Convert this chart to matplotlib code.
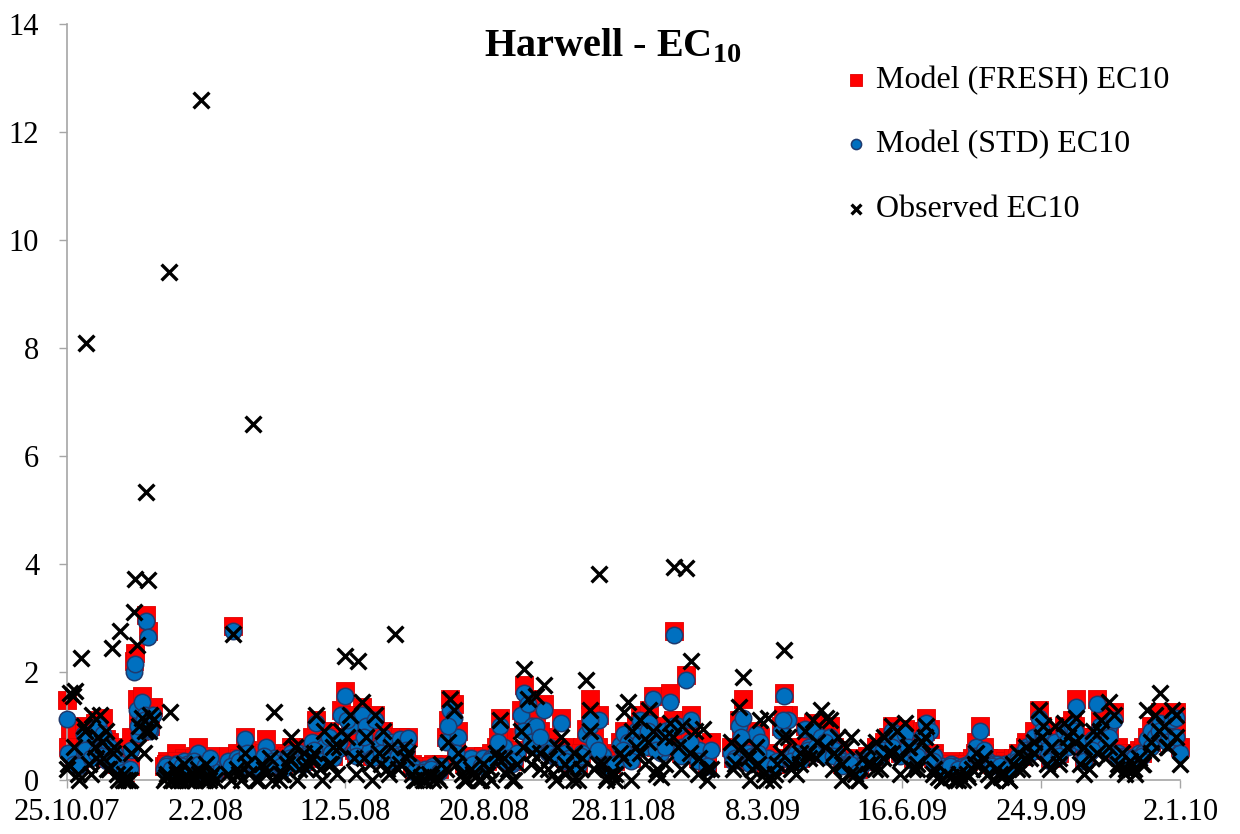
import numpy as np
import matplotlib
matplotlib.use("Agg")
import matplotlib.pyplot as plt

plt.rcParams['font.family'] = ['Liberation Serif', 'DejaVu Serif']
plt.rcParams['mathtext.fontset'] = 'custom'
plt.rcParams['mathtext.rm'] = 'Liberation Serif'
plt.rcParams['mathtext.bf'] = 'Liberation Serif:bold'

# sampling days counted from 25.10.07
days_a = [0, 2, 4, 6, 8, 10, 12, 14, 16, 18, 20, 22, 24, 26, 28, 30, 32, 34, 36, 38,
          40, 42, 44, 46, 48, 49, 50, 52, 54, 56, 57, 58, 60, 62,
          1, 5, 9, 13, 17, 21, 25, 29, 33, 37, 41, 45, 51, 55, 59]
fresh_a = [1.48, 0.9, 0.5, 0.55, 0.4, 0.55, 1.0, 0.55, 0.5, 0.7, 1.05, 1.1, 0.6, 1.15, 0.75, 0.7, 0.5, 0.6, 0.3, 0.35,
           0.2, 0.15, 0.3, 0.8, 2.2, 2.35, 1.5, 0.9, 1.55, 1.3, 3.05, 2.75, 1.0, 1.35,
           0.6, 0.35, 0.3, 0.7, 0.45, 0.6, 0.5, 0.4, 0.35, 0.3, 0.2, 0.25, 1.1, 1.2, 1.1]
std_a = [1.12, 0.45, 0.4, 0.45, 0.3, 0.5, 0.85, 0.45, 0.4, 0.6, 0.9, 1.0, 0.55, 0.85, 0.7, 0.6, 0.4, 0.5, 0.25, 0.3,
         0.15, 0.1, 0.2, 0.55, 2.0, 2.15, 1.3, 0.85, 1.45, 1.2, 2.95, 2.65, 0.9, 1.2,
         0.5, 0.3, 0.25, 0.55, 0.4, 0.5, 0.45, 0.35, 0.3, 0.2, 0.15, 0.2, 1.0, 1.1, 0.95]
obs_a = [0.2, 1.6, 1.55, 1.65, 0.1, 2.25, 1.0, 8.1, 0.3, 1.2, 0.6, 0.8, 1.2, 0.4, 0.9, 0.2, 2.45, 0.6, 0.1, 2.75,
         0.0, 0.0, 0.0, 0.5, 3.1, 3.72, 2.5, 1.0, 1.15, 0.9, 5.33, 3.7, 1.2, 1.1,
         0.3, 0.6, 0.0, 0.9, 0.1, 0.4, 0.7, 0.2, 0.5, 0.0, 0.1, 0.0, 0.6, 0.5, 0.9]

days_b = [70, 72, 73, 74, 76, 78, 80, 82, 84, 86, 88, 90, 92, 94, 96, 98, 100, 102, 104, 106,
          71, 75, 79, 83, 87, 91, 95, 99, 103]
fresh_b = [0.25, 0.35, 0.3, 0.2, 0.3, 0.5, 0.3, 0.2, 0.4, 0.35, 0.25, 0.3, 0.45, 0.6, 0.3, 0.2, 0.35, 0.25, 0.3, 0.2,
           0.3, 0.25, 0.35, 0.3, 0.2, 0.4, 0.35, 0.3, 0.45]
std_b = [0.2, 0.3, 0.25, 0.15, 0.25, 0.3, 0.25, 0.15, 0.35, 0.3, 0.2, 0.2, 0.4, 0.5, 0.25, 0.15, 0.3, 0.2, 0.25, 0.15,
         0.25, 0.2, 0.3, 0.25, 0.15, 0.35, 0.3, 0.25, 0.4]
obs_b = [0.0, 0.1, 9.4, 1.25, 0.0, 0.2, 0.0, 0.0, 0.3, 0.0, 0.0, 0.1, 0.0, 0.2, 12.6, 0.0, 0.3, 0.0, 0.1, 0.0,
         0.05, 0.0, 0.1, 0.0, 0.05, 0.0, 0.1, 0.0, 0.05]

days_c = [116, 119, 122, 125, 128, 131, 134, 137, 140, 143, 146, 149, 152, 155, 158, 161, 164, 167, 170, 173,
          176, 179, 182, 185, 188, 191, 194, 197, 200, 203, 206, 209, 212, 215, 218, 221, 224, 227, 230, 233,
          236, 239, 242, 245, 248, 251, 254, 257, 260, 263, 266, 269, 272, 275, 278, 281, 284, 287, 290, 293,
          296, 299, 302, 305, 308, 311, 314, 317, 320, 323, 326, 328, 331, 334, 337, 340, 343, 346, 349, 352,
          355, 358, 361, 364, 367, 370, 373, 376, 379, 382, 385, 388, 391, 394, 397, 400, 403, 406, 409, 412,
          415, 418, 421, 424, 427, 430, 433, 436, 439, 442, 445, 448, 451, 454, 457, 460, 463]
fresh_c = [0.45, 2.85, 0.5, 0.3, 0.8, 0.4, 0.35, 0.25, 0.45, 0.75, 0.3, 0.5, 0.35, 0.25, 0.45, 0.6, 0.5, 0.55, 0.35, 0.6,
           0.8, 1.1, 0.5, 0.7, 0.9, 0.45, 0.6, 1.3, 1.65, 1.1, 0.55, 0.7, 1.35, 1.1, 0.6, 1.2, 0.7, 0.9, 0.5, 0.8,
           0.6, 0.8, 0.5, 0.8, 0.3, 0.25, 0.2, 0.25, 0.2, 0.3, 0.25, 0.3, 0.8, 1.5, 1.4, 0.9, 0.4, 0.3, 0.45, 0.35,
           0.3, 0.45, 0.35, 0.5, 0.6, 1.15, 0.8, 0.5, 0.35, 0.55, 1.3, 1.75, 1.5, 1.1, 1.1, 0.7, 1.4, 0.8, 0.5, 0.6,
           1.15, 0.6, 0.45, 0.4, 0.3, 0.6, 0.95, 1.5, 0.8, 1.2, 0.5, 0.35, 0.3, 0.4, 0.7, 0.9, 0.8, 0.5, 1.0, 1.2,
           0.7, 1.3, 1.55, 0.9, 0.6, 1.0, 1.6, 2.75, 1.1, 0.7, 1.95, 1.2, 0.5, 0.6, 0.5, 0.3, 0.7]
std_c = [0.35, 2.75, 0.4, 0.25, 0.75, 0.3, 0.3, 0.2, 0.35, 0.6, 0.25, 0.4, 0.3, 0.2, 0.4, 0.5, 0.45, 0.5, 0.3, 0.5,
         0.7, 1.05, 0.45, 0.6, 0.8, 0.4, 0.55, 1.2, 1.55, 1.0, 0.5, 0.6, 1.2, 1.0, 0.55, 1.1, 0.6, 0.8, 0.45, 0.7,
         0.55, 0.75, 0.4, 0.78, 0.25, 0.2, 0.15, 0.2, 0.15, 0.25, 0.2, 0.25, 0.7, 1.3, 1.15, 0.8, 0.35, 0.25, 0.4, 0.3,
         0.25, 0.4, 0.3, 0.4, 0.5, 1.0, 0.6, 0.4, 0.3, 0.5, 1.2, 1.6, 1.4, 1.0, 1.0, 0.6, 1.3, 0.6, 0.45, 0.5,
         1.05, 0.5, 0.4, 0.35, 0.25, 0.5, 0.85, 1.0, 0.7, 1.1, 0.45, 0.3, 0.25, 0.3, 0.65, 0.85, 0.7, 0.45, 0.9, 1.1,
         0.6, 1.05, 1.5, 0.8, 0.5, 0.9, 1.45, 2.68, 1.0, 0.6, 1.85, 1.1, 0.45, 0.55, 0.35, 0.25, 0.55]
obs_c = [0.1, 2.7, 0.2, 0.0, 0.5, 0.1, 6.6, 0.0, 0.3, 0.1, 0.4, 1.25, 0.0, 0.1, 0.3, 0.8, 0.6, 0.2, 0.5, 0.3,
         0.4, 1.2, 0.2, 0.9, 0.3, 0.6, 0.1, 0.9, 2.3, 1.2, 0.4, 2.2, 1.45, 0.8, 0.3, 1.2, 0.5, 0.9, 0.2, 0.6,
         2.7, 0.3, 0.6, 0.5, 0.1, 0.0, 0.05, 0.0, 0.1, 0.0, 0.05, 0.3, 0.2, 1.5, 1.3, 0.5, 0.1, 0.0, 0.2, 0.05,
         0.0, 0.3, 0.1, 0.0, 0.5, 1.1, 0.4, 0.2, 0.0, 0.3, 0.9, 2.05, 1.5, 0.5, 1.55, 0.2, 1.75, 0.4, 0.1, 0.6,
         0.8, 0.3, 0.2, 0.5, 0.0, 0.4, 1.85, 1.3, 0.2, 3.82, 0.3, 0.05, 0.1, 0.0, 0.5, 1.25, 1.45, 0.9, 0.6, 1.1,
         0.3, 1.3, 0.9, 0.2, 0.05, 0.8, 1.05, 3.95, 0.6, 1.0, 3.92, 2.2, 0.9, 0.4, 0.95, 0.2, 0.2]

# in-between samples, summer 2008 to autumn 2008
days_c2 = [117.5, 123.5, 129.5, 135.5, 141.5, 147.5, 153.5, 159.5, 165.5, 171.5, 177.5, 183.5, 189.5, 195.5,
           201.5, 207.5, 213.5, 219.5, 225.5, 231.5, 237.5, 243.5, 249.5, 255.5, 261.5, 267.5, 273.5, 279.5,
           285.5, 291.5, 297.5, 303.5, 309.5, 315.5, 321.5, 327.5, 333.5, 339.5, 345.5, 351.5, 357.5, 363.5,
           369.5, 375.5, 381.5, 387.5, 393.5, 399.5, 405.5, 411.5, 417.5, 423.5, 429.5, 435.5, 441.5, 447.5,
           453.5, 459.5]
fresh_c2 = [0.3, 0.4, 0.55, 0.3, 0.5, 0.4, 0.3, 0.45, 0.35, 0.5, 0.6, 0.4, 0.55, 0.8,
            1.2, 0.5, 0.9, 0.45, 0.55, 0.4, 0.5, 0.6, 0.2, 0.2, 0.25, 0.2, 1.1, 0.6,
            0.3, 0.35, 0.3, 0.4, 0.8, 0.4, 0.4, 1.0, 0.8, 0.9, 0.6, 0.5, 0.4, 0.3,
            0.5, 1.2, 0.6, 0.3, 0.35, 0.6, 0.4, 0.8, 1.0, 0.6, 0.7, 1.1, 0.5, 0.8,
            0.4, 0.3]
std_c2 = [0.25, 0.35, 0.5, 0.25, 0.45, 0.35, 0.25, 0.4, 0.3, 0.45, 0.55, 0.35, 0.5, 0.7,
          1.1, 0.45, 0.8, 0.4, 0.5, 0.35, 0.45, 0.55, 0.15, 0.15, 0.2, 0.15, 1.0, 0.5,
          0.25, 0.3, 0.25, 0.35, 0.7, 0.35, 0.35, 0.9, 0.7, 0.8, 0.5, 0.45, 0.35, 0.25,
          0.45, 1.1, 0.55, 0.25, 0.3, 0.55, 0.35, 0.7, 0.9, 0.55, 0.6, 1.0, 0.45, 0.7,
          0.35, 0.25]
obs_c2 = [0.0, 0.1, 0.3, 0.0, 0.2, 0.0, 0.1, 0.4, 0.0, 0.2, 0.5, 0.0, 0.3, 0.6,
          0.8, 0.1, 0.4, 0.0, 0.3, 0.1, 0.2, 0.4, 0.0, 0.0, 0.05, 0.0, 0.7, 0.3,
          0.0, 0.1, 0.0, 0.2, 0.4, 0.1, 0.0, 0.6, 0.3, 0.5, 0.2, 0.0, 0.1, 0.0,
          0.2, 0.9, 0.3, 0.0, 0.1, 0.4, 0.0, 0.5, 0.7, 0.1, 0.3, 0.8, 0.2, 0.5,
          0.1, 0.0]

days_d = [477, 480, 483, 486, 489, 492, 495, 498, 501, 504, 507, 510, 513, 515, 518, 521, 524, 527, 530, 533,
          536, 539, 542, 545, 548, 551, 554, 557, 560, 563, 566, 569, 572, 575, 578, 581, 584, 587, 590, 593,
          596, 599, 602, 605, 608, 611, 614, 617, 620, 623, 626, 629, 632, 635, 638, 641, 644, 647, 650, 653,
          656, 659, 662, 665, 668, 671, 674, 677, 680, 683, 686, 689, 692, 695, 698, 701, 704, 707, 710, 713,
          716, 719, 722, 725, 728, 731, 734, 737, 740, 743, 746, 749, 752, 755, 758, 761, 764, 767, 770, 773,
          776, 779, 782, 785, 788, 791, 794, 797, 800]
fresh_d = [0.6, 0.45, 1.1, 1.5, 0.6, 0.5, 0.9, 0.8, 0.4, 0.5, 0.3, 0.4, 1.0, 1.6, 1.2, 0.5, 0.6, 0.4, 1.0, 0.7,
           1.05, 0.6, 0.9, 0.5, 1.0, 0.6, 0.55, 0.4, 0.35, 0.4, 0.3, 0.25, 0.35, 0.45, 0.4, 0.6, 0.5, 0.7, 0.8, 1.0,
           0.9, 0.6, 0.95, 0.5, 0.4, 0.6, 0.9, 1.15, 0.95, 0.5, 0.3, 0.3, 0.25, 0.35, 0.3, 0.25, 0.3, 0.35, 0.4, 0.7,
           1.0, 0.5, 0.4, 0.35, 0.4, 0.3, 0.35, 0.3, 0.4, 0.5, 0.45, 0.7, 0.55, 0.9, 1.3, 0.9, 0.6, 0.5, 0.8, 0.6,
           1.0, 0.7, 1.1, 1.5, 0.8, 0.5, 0.6, 0.8, 1.5, 1.0, 0.7, 1.2, 1.25, 0.6, 0.5, 0.45, 0.4, 0.5, 0.55, 0.6,
           0.8, 1.0, 0.9, 1.25, 1.0, 0.9, 1.2, 1.25, 0.6]
std_d = [0.5, 0.4, 1.0, 1.15, 0.5, 0.45, 0.85, 0.7, 0.35, 0.4, 0.25, 0.35, 0.9, 1.55, 1.1, 0.45, 0.5, 0.35, 0.95, 0.6,
         0.9, 0.5, 0.8, 0.45, 0.8, 0.55, 0.45, 0.35, 0.3, 0.35, 0.25, 0.2, 0.3, 0.4, 0.35, 0.5, 0.45, 0.6, 0.7, 0.9,
         0.85, 0.5, 0.85, 0.45, 0.35, 0.55, 0.8, 1.05, 0.9, 0.45, 0.25, 0.25, 0.2, 0.3, 0.25, 0.2, 0.25, 0.3, 0.35, 0.6,
         0.9, 0.45, 0.35, 0.3, 0.3, 0.25, 0.3, 0.25, 0.35, 0.45, 0.4, 0.6, 0.5, 0.8, 1.15, 0.8, 0.55, 0.45, 0.7, 0.5,
         0.9, 0.6, 1.0, 1.35, 0.7, 0.45, 0.5, 0.75, 1.4, 0.9, 0.6, 1.0, 1.1, 0.5, 0.45, 0.4, 0.35, 0.45, 0.5, 0.5,
         0.75, 0.9, 0.8, 1.05, 0.9, 0.8, 1.1, 1.15, 0.5]
obs_d = [0.7, 0.3, 1.35, 1.9, 0.4, 0.2, 0.6, 1.1, 0.1, 1.15, 0.0, 0.3, 0.5, 2.4, 0.8, 0.3, 0.1, 0.5, 0.9, 0.4,
         1.1, 0.7, 1.3, 1.15, 1.1, 0.5, 0.8, 0.3, 0.6, 0.8, 0.1, 0.0, 0.4, 0.6, 0.3, 0.7, 0.2, 0.8, 0.5, 1.0,
         0.9, 0.4, 1.05, 0.6, 0.2, 0.3, 0.7, 1.0, 0.5, 0.2, 0.05, 0.0, 0.1, 0.05, 0.0, 0.1, 0.0, 0.05, 0.2, 0.5,
         0.3, 0.4, 0.1, 0.0, 0.2, 0.05, 0.1, 0.0, 0.3, 0.5, 0.2, 0.6, 0.4, 0.7, 1.3, 1.0, 0.3, 0.6, 1.0, 0.4,
         1.05, 0.8, 0.9, 1.15, 0.3, 0.6, 0.2, 0.9, 0.5, 1.1, 0.4, 1.45, 1.2, 0.3, 0.5, 0.2, 0.35, 0.1, 0.4, 0.3,
         1.3, 0.7, 1.2, 1.6, 1.0, 0.6, 1.3, 1.2, 0.3]

# in-between samples, 2009
days_d2 = [478.5, 484.5, 490.5, 496.5, 502.5, 508.5, 514.5, 520.5, 526.5, 532.5, 538.5, 544.5, 550.5, 556.5,
           562.5, 568.5, 574.5, 580.5, 586.5, 592.5, 598.5, 604.5, 610.5, 616.5, 622.5, 628.5, 634.5, 640.5,
           646.5, 652.5, 658.5, 664.5, 670.5, 676.5, 682.5, 688.5, 694.5, 700.5, 706.5, 712.5, 718.5, 724.5,
           730.5, 736.5, 742.5, 748.5, 754.5, 760.5, 766.5, 772.5, 778.5, 784.5, 790.5, 796.5]
fresh_d2 = [0.4, 0.9, 0.35, 0.6, 0.3, 0.3, 1.2, 0.4, 0.5, 0.6, 0.7, 0.8, 0.5, 0.3,
            0.35, 0.2, 0.4, 0.45, 0.6, 0.7, 0.5, 0.7, 0.5, 0.9, 0.4, 0.25, 0.3, 0.25,
            0.3, 0.5, 0.6, 0.3, 0.3, 0.25, 0.4, 0.6, 0.7, 1.0, 0.4, 0.5, 0.8, 1.0,
            0.4, 0.6, 1.1, 0.9, 0.5, 0.4, 0.45, 0.5, 0.7, 1.0, 0.8, 0.9]
std_d2 = [0.35, 0.8, 0.3, 0.5, 0.25, 0.25, 1.1, 0.35, 0.45, 0.55, 0.6, 0.7, 0.45, 0.25,
          0.3, 0.15, 0.35, 0.4, 0.55, 0.6, 0.45, 0.6, 0.45, 0.8, 0.35, 0.2, 0.25, 0.2,
          0.25, 0.45, 0.55, 0.25, 0.25, 0.2, 0.35, 0.55, 0.6, 0.9, 0.35, 0.45, 0.7, 0.9,
          0.35, 0.55, 1.0, 0.8, 0.45, 0.35, 0.4, 0.45, 0.6, 0.9, 0.7, 0.8]
obs_d2 = [0.2, 0.6, 0.0, 0.3, 0.0, 0.1, 0.8, 0.2, 0.3, 0.5, 0.4, 0.6, 0.2, 0.0,
          0.1, 0.0, 0.3, 0.2, 0.4, 0.5, 0.1, 0.6, 0.2, 0.8, 0.1, 0.0, 0.05, 0.0,
          0.1, 0.3, 0.2, 0.0, 0.1, 0.0, 0.2, 0.4, 0.5, 0.8, 0.2, 0.3, 0.6, 0.7,
          0.1, 0.4, 0.9, 0.6, 0.2, 0.1, 0.2, 0.3, 0.5, 0.9, 0.6, 0.8]

tick_days = [0, 100, 200, 300, 400, 500, 600, 700, 800]
tick_labels = ['25.10.07', '2.2.08', '12.5.08', '20.8.08', '28.11.08', '8.3.09', '16.6.09', '24.9.09', '2.1.10']

days = days_a + days_b + days_c + days_c2 + days_d + days_d2
fresh = fresh_a + fresh_b + fresh_c + fresh_c2 + fresh_d + fresh_d2
std = std_a + std_b + std_c + std_c2 + std_d + std_d2
obs = obs_a + obs_b + obs_c + obs_c2 + obs_d + obs_d2

fig = plt.figure(figsize=(12.4, 8.34), dpi=100)
ax = fig.add_axes([0.054, 0.065, 0.898, 0.906])

ax.scatter(days, fresh, marker='s', s=170, color='#FF0000', edgecolors='#E00000', linewidths=0.6,
           label='Model (FRESH) EC10', clip_on=False, zorder=2)
ax.scatter(days, std, marker='o', s=140, color='#0070C0', edgecolors='#1F3A6E', linewidths=1.1,
           label='Model (STD) EC10', clip_on=False, zorder=3)
ax.scatter(days, obs, marker='x', s=130, color='black', linewidths=2.4,
           label='Observed EC10', clip_on=False, zorder=4)

ax.set_xlim(0, 800)
ax.set_ylim(0, 14)
ax.set_yticks(np.arange(0, 15, 2))
ax.set_xticks(tick_days)
ax.set_xticklabels(tick_labels)
ax.tick_params(axis='both', labelsize=22, color='#A6A6A6', length=6, width=1.0)
ax.tick_params(axis='y', pad=14)
ax.tick_params(axis='x', pad=7)
for side in ['top', 'right']:
    ax.spines[side].set_visible(False)
for side in ['left', 'bottom']:
    ax.spines[side].set_color('#A6A6A6')
    ax.spines[side].set_linewidth(1.2)

fig.text(0.494, 0.945, r'Harwell - EC$_{\mathbf{10}}$', ha='center', va='center',
         fontsize=29, fontweight='bold')

leg = ax.legend(loc='upper left', bbox_to_anchor=(0.686, 0.962), frameon=False, fontsize=23,
                labelspacing=1.1, handlelength=0.8, handletextpad=0.2, markerscale=0.62,
                borderaxespad=0)

fig.savefig('out.png', dpi=100)
